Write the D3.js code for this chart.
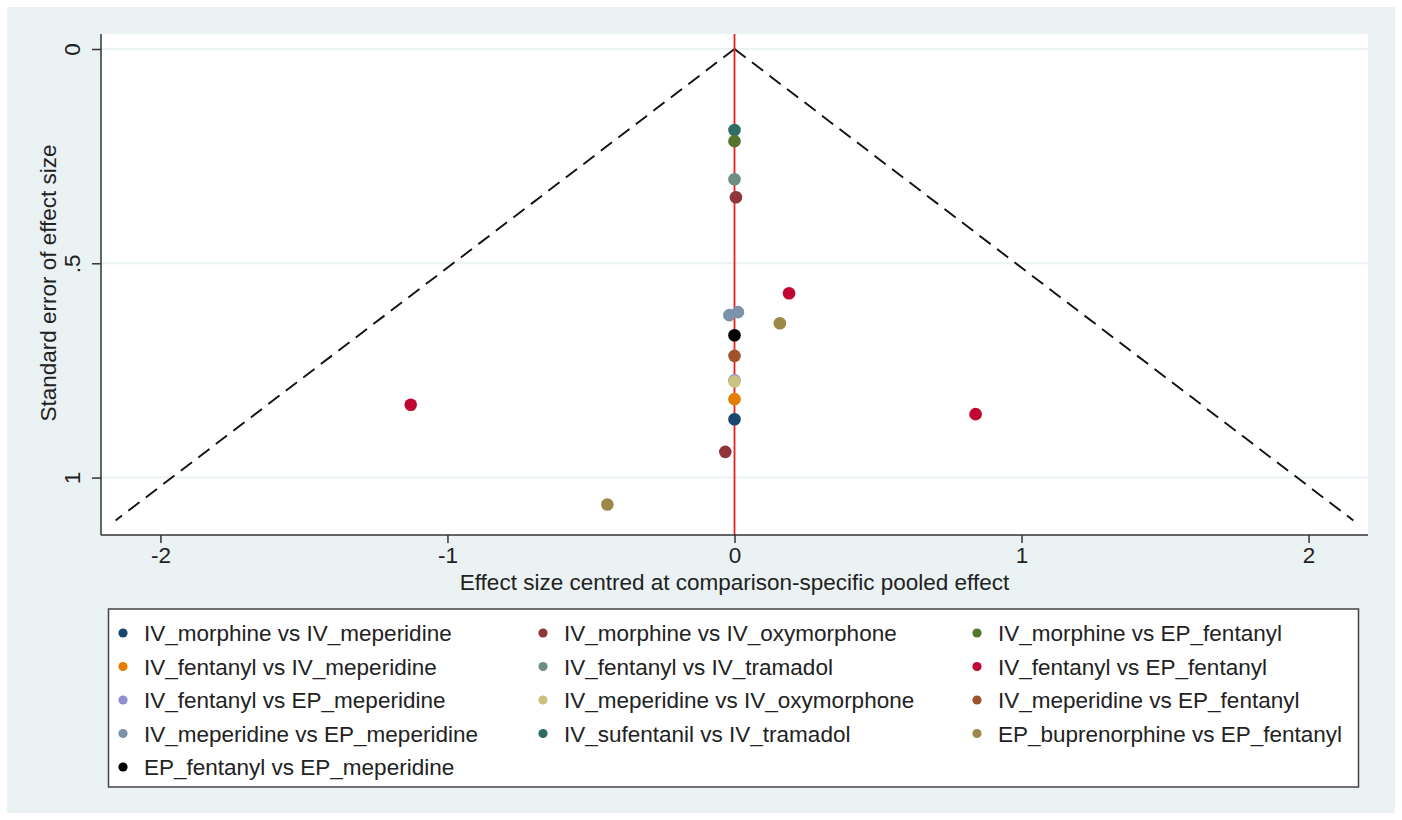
<!DOCTYPE html>
<html lang="en">
<head>
<meta charset="UTF-8">
<title>comparison-adjusted funnel plot</title>
<script src="https://d3js.org/d3.v7.min.js"></script>
<style>
    body{ margin:0; background:#ffffff; }
    text{ font-family: "Liberation Sans", Arial, sans-serif; fill:#222; }
    .axis text{ font-size:22.5px; }
    .axis path, .axis line{ stroke:#333; stroke-width:1.5; }
    .legend text{ font-size:22.5px; }
</style>
</head>
<body>
<div id="fig"></div>
<script>
    // comparisons in legend order, with s2color palette
    let comparisons = [
        "IV_morphine vs IV_meperidine", "IV_morphine vs IV_oxymorphone", "IV_morphine vs EP_fentanyl",
        "IV_fentanyl vs IV_meperidine", "IV_fentanyl vs IV_tramadol", "IV_fentanyl vs EP_fentanyl",
        "IV_fentanyl vs EP_meperidine", "IV_meperidine vs IV_oxymorphone", "IV_meperidine vs EP_fentanyl",
        "IV_meperidine vs EP_meperidine", "IV_sufentanil vs IV_tramadol", "EP_buprenorphine vs EP_fentanyl",
        "EP_fentanyl vs EP_meperidine"
    ]
    let colors = ["#1a476f","#90353b","#55752f","#e37e00","#6e8e84","#c10534",
                  "#938dd2","#cac27e","#a0522d","#7b92a8","#2d6d66","#9c8847","#000000"]

    // studies: comparison index, centred effect, standard error
    let studyComp = [10, 2, 4, 1, 5, 9, 9, 11, 12, 8, 6, 7, 3, 0, 5, 5, 1, 11]
    let studyEffect = [0, 0, 0, 0.005, 0.19, -0.018, 0.012, 0.158, 0, 0, 0, 0, 0, 0, -1.128, 0.84, -0.032, -0.443]
    let studySE = [0.189, 0.215, 0.304, 0.346, 0.57, 0.621, 0.614, 0.64, 0.668, 0.716, 0.773, 0.776, 0.817, 0.864, 0.83, 0.852, 0.94, 1.063]

    let xTicks = [-2, -1, 0, 1, 2]
    let yTicks = [0, 0.5, 1]
    let yTickLabels = ["0", ".5", "1"]
    let funnelSE = [0, 1.1]
    let z = 1.96

    let W = 1402, H = 820
    let svg = d3.select("#fig").append("svg").attr("width", W).attr("height", H)

    // graph region
    svg.append("rect").attr("x", 7).attr("y", 7).attr("width", W - 14).attr("height", H - 14).attr("fill", "#eaf2f3")

    let plot = {left: 101, right: 1368, top: 34, bottom: 535}
    let xScale = d3.scaleLinear().domain([-2.207, 2.207]).range([plot.left, plot.right])
    let yScale = d3.scaleLinear().domain([-0.035, 1.134]).range([plot.top, plot.bottom])

    svg.append("rect").attr("x", plot.left).attr("y", plot.top)
        .attr("width", plot.right - plot.left).attr("height", plot.bottom - plot.top).attr("fill", "#ffffff")

    // gridlines
    svg.append("g").selectAll("line").data(yTicks).join("line")
        .attr("x1", plot.left).attr("x2", plot.right)
        .attr("y1", d => yScale(d)).attr("y2", d => yScale(d))
        .attr("stroke", "#eaf2f3").attr("stroke-width", 2)

    // funnel (pseudo 95% limits)
    let line = d3.line().x(d => xScale(d[0])).y(d => yScale(d[1]))
    ;[-1, 1].forEach(function (s) {
        svg.append("path")
            .attr("d", line(funnelSE.map(se => [s * z * se, se])))
            .attr("fill", "none").attr("stroke", "#111").attr("stroke-width", 1.9)
            .attr("stroke-dasharray", "14,8")
    })

    // zero line
    svg.append("line").attr("x1", xScale(0)).attr("x2", xScale(0))
        .attr("y1", plot.top).attr("y2", plot.bottom)
        .attr("stroke", "#e8201e").attr("stroke-width", 1.8)

    // points
    svg.append("g").selectAll("circle").data(studySE).join("circle")
        .attr("cx", (d, i) => xScale(studyEffect[i]))
        .attr("cy", d => yScale(d))
        .attr("r", 6.3)
        .attr("fill", (d, i) => colors[studyComp[i]])

    // axes
    let xAxis = d3.axisBottom(xScale).tickValues(xTicks).tickSize(8).tickPadding(4)
        .tickFormat(d => d < 0 ? "-" + Math.abs(d) : d)
    let gx = svg.append("g").attr("class", "axis").attr("transform", `translate(0,${plot.bottom})`).call(xAxis)
    gx.select(".domain").attr("d", `M${plot.left},0H${plot.right}`)

    let yAxis = d3.axisLeft(yScale).tickValues(yTicks).tickSize(9).tickFormat((d, i) => yTickLabels[i])
    let gy = svg.append("g").attr("class", "axis").attr("transform", `translate(${plot.left},0)`).call(yAxis)
    gy.select(".domain").attr("d", `M0,${plot.top}V${plot.bottom}`)
    gy.selectAll(".tick text")
        .attr("x", null).attr("dy", null)
        .attr("text-anchor", "middle")
        .attr("transform", "translate(-20,0) rotate(-90) translate(0,-7)")
        .attr("dominant-baseline", "middle")

    svg.append("text").attr("x", xScale(0)).attr("y", 590)
        .attr("text-anchor", "middle").style("font-size", "22.5px")
        .text("Effect size centred at comparison-specific pooled effect")
    svg.append("text").attr("transform", `translate(56,${(143 + 423) / 2}) rotate(-90)`)
        .attr("text-anchor", "middle").style("font-size", "22.5px")
        .text("Standard error of effect size")

    // legend
    let leg = svg.append("g").attr("class", "legend")
    leg.append("rect").attr("x", 108.5).attr("y", 609).attr("width", 1250).attr("height", 178)
        .attr("fill", "#ffffff").attr("stroke", "#444").attr("stroke-width", 1.5)
    let colX = [123, 543, 977]
    let items = leg.selectAll("g.item").data(comparisons).join("g").attr("class", "item")
        .attr("transform", (d, i) => `translate(${colX[i % 3]},${633 + Math.floor(i / 3) * 33.5})`)
    items.append("circle").attr("r", 4.6).attr("fill", (d, i) => colors[i])
    items.append("text").attr("x", 21).attr("dy", "0.36em").text(d => d)
</script>
</body>
</html>
